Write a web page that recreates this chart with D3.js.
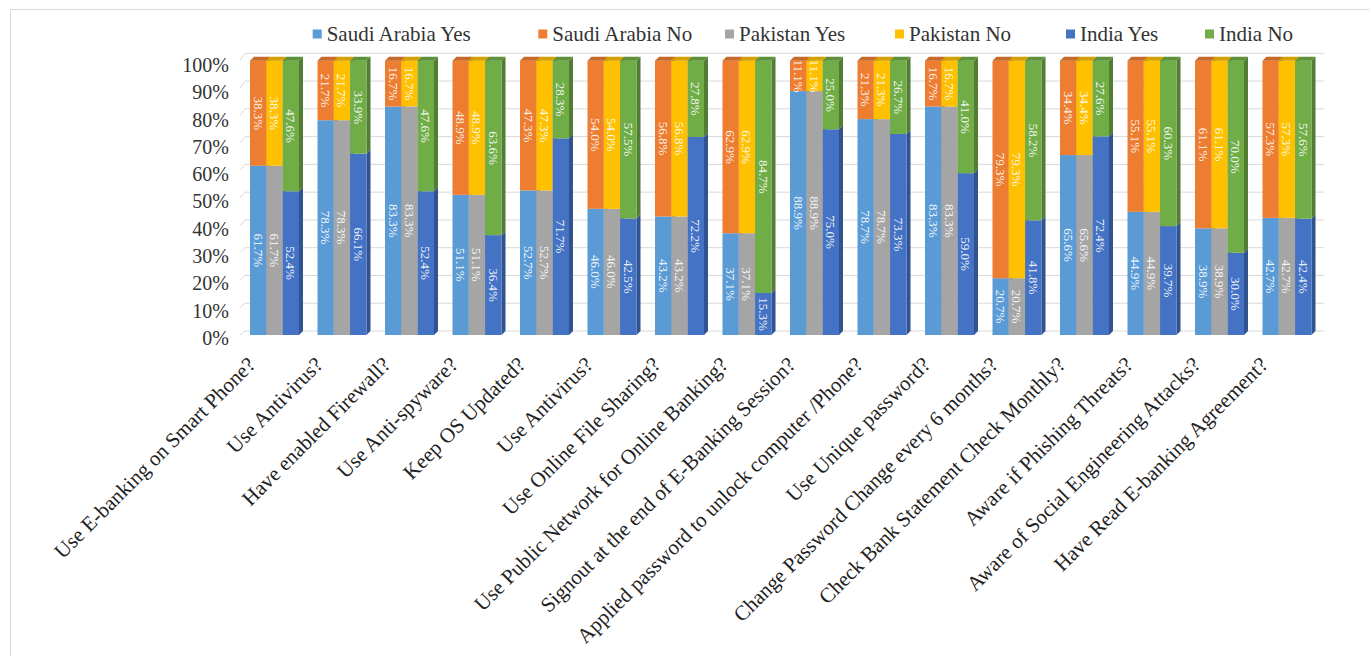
<!DOCTYPE html>
<html>
<head>
<meta charset="utf-8">
<script src="https://cdn.jsdelivr.net/npm/d3@7"></script>
<style>
  body { margin: 0; background: #fff; }
  svg { display: block; }
</style>
</head>
<body>
<div id="chart"></div>
<script>
const categories = [
  "Use E-banking on Smart Phone?",
  "Use Antivirus?",
  "Have enabled Firewall?",
  "Use Anti-spyware?",
  "Keep OS Updated?",
  "Use Antivirus?",
  "Use Online File Sharing?",
  "Use Public Network for Online Banking?",
  "Signout at the end of E-Banking Session?",
  "Applied password to unlock computer /Phone?",
  "Use Unique password?",
  "Change Password Change every 6 months?",
  "Check Bank Statement Check Monthly?",
  "Aware if Phishing Threats?",
  "Aware of Social Engineering Attacks?",
  "Have Read E-banking Agreement?"
];
const saudiYes    = [61.7, 78.3, 83.3, 51.1, 52.7, 46.0, 43.2, 37.1, 88.9, 78.7, 83.3, 20.7, 65.6, 44.9, 38.9, 42.7];
const saudiNo     = [38.3, 21.7, 16.7, 48.9, 47.3, 54.0, 56.8, 62.9, 11.1, 21.3, 16.7, 79.3, 34.4, 55.1, 61.1, 57.3];
const pakistanYes = [61.7, 78.3, 83.3, 51.1, 52.7, 46.0, 43.2, 37.1, 88.9, 78.7, 83.3, 20.7, 65.6, 44.9, 38.9, 42.7];
const pakistanNo  = [38.3, 21.7, 16.7, 48.9, 47.3, 54.0, 56.8, 62.9, 11.1, 21.3, 16.7, 79.3, 34.4, 55.1, 61.1, 57.3];
const indiaYes    = [52.4, 66.1, 52.4, 36.4, 71.7, 42.5, 72.2, 15.3, 75.0, 73.3, 59.0, 41.8, 72.4, 39.7, 30.0, 42.4];
const indiaNo     = [47.6, 33.9, 47.6, 63.6, 28.3, 57.5, 27.8, 84.7, 25.0, 26.7, 41.0, 58.2, 27.6, 60.3, 70.0, 57.6];
const yTicks = [0, 10, 20, 30, 40, 50, 60, 70, 80, 90, 100];

const series = [
  { country: "Saudi Arabia", yes: saudiYes, no: saudiNo, yesColor: "#5b9bd5", noColor: "#ed7d31" },
  { country: "Pakistan", yes: pakistanYes, no: pakistanNo, yesColor: "#a5a5a5", noColor: "#ffc000" },
  { country: "India", yes: indiaYes, no: indiaNo, yesColor: "#4472c4", noColor: "#70ad47" }
];

const width = 1369, height = 656;
const dx = 4, dy = 4; // 3d depth
const serif = "'Liberation Serif', 'Times New Roman', serif";

const svg = d3.select("#chart").append("svg")
  .attr("width", width)
  .attr("height", height);

// outer frame
svg.append("rect")
  .attr("x", 10.5).attr("y", 9.5)
  .attr("width", 1400).attr("height", 700)
  .attr("fill", "none")
  .attr("stroke", "#d9d9d9");

const x = d3.scaleBand()
  .domain(d3.range(categories.length))
  .range([240.75, 1320.75])
  .paddingInner(0.274)
  .paddingOuter(0.137);

const sub = d3.scaleBand()
  .domain(series.map(s => s.country))
  .range([0, x.bandwidth()]);

const yFront = d3.scaleLinear().domain([0, 100]).range([335, 60.7]);
const yBack = d3.scaleLinear().domain([0, 100]).range([331, 53.3]);
const yLabel = d3.scaleLinear().domain([0, 100]).range([338, 65]);

// back wall gridlines
const grid = svg.append("g");
grid.selectAll("line.g")
  .data(yTicks)
  .join("line")
  .attr("x1", 245).attr("x2", 1324)
  .attr("y1", d => yBack(d)).attr("y2", d => yBack(d))
  .attr("stroke", "#d9d9d9");
grid.selectAll("line.w")
  .data(yTicks)
  .join("line")
  .attr("x1", 240).attr("x2", 245)
  .attr("y1", d => yFront(d)).attr("y2", d => yBack(d))
  .attr("stroke", "#d9d9d9");

// y axis
const yAxis = svg.append("g")
  .attr("transform", "translate(229,0)")
  .call(d3.axisLeft(yLabel).tickValues(yTicks).tickFormat(d => d + "%").tickSize(0).tickPadding(0));
yAxis.select(".domain").remove();
yAxis.attr("font-family", serif).attr("font-size", 20);
yAxis.selectAll("text")
  .attr("font-family", serif)
  .attr("font-size", 20)
  .attr("fill", "#333");

// bars
const bars = svg.append("g");
const labels = [];
categories.forEach((c, i) => {
  series.forEach(s => {
    const bx = x(i) + sub(s.country);
    const w = sub.bandwidth();
    const segs = [
      { v0: 0, v1: s.yes[i], color: s.yesColor },
      { v0: s.yes[i], v1: s.yes[i] + s.no[i], color: s.noColor }
    ];
    segs.forEach((seg, k) => {
      const yt = yFront(seg.v1), yb = yFront(seg.v0);
      // side face
      bars.append("path")
        .attr("d", `M${bx + w},${yb} L${bx + w + dx},${yb - dy} L${bx + w + dx},${yt - dy} L${bx + w},${yt} Z`)
        .attr("fill", d3.color(seg.color).darker(0.9));
      // front face
      bars.append("rect")
        .attr("x", bx).attr("y", yt)
        .attr("width", w).attr("height", yb - yt)
        .attr("fill", seg.color);
      if (k === 1) {
        bars.append("path")
          .attr("d", `M${bx},${yt} L${bx + dx},${yt - dy} L${bx + w + dx},${yt - dy} L${bx + w},${yt} Z`)
          .attr("fill", d3.color(seg.color).darker(0.5));
      }
      labels.push({ x: bx + w / 2, y: (yt + yb) / 2, v: seg.v1 - seg.v0 });
    });
  });
});

// data labels
svg.append("g").selectAll("text")
  .data(labels)
  .join("text")
  .attr("transform", d => `translate(${d.x},${d.y}) rotate(90)`)
  .attr("text-anchor", "middle")
  .attr("dy", "0.35em")
  .attr("font-family", serif)
  .attr("font-size", 13)
  .attr("fill", "#fff")
  .attr("fill-opacity", 0.9)
  .text(d => d.v.toFixed(1) + "%");

// category labels
svg.append("g").selectAll("text")
  .data(categories)
  .join("text")
  .attr("transform", (d, i) => `translate(${x(i) + x.bandwidth() / 2 - 18},${366}) rotate(-45)`)
  .attr("text-anchor", "end")
  .attr("font-family", serif)
  .attr("font-size", 21)
  .attr("fill", "#222")
  .text(d => d);

// legend
const legendItems = [];
series.forEach(s => {
  legendItems.push({ name: s.country + " Yes", color: s.yesColor });
  legendItems.push({ name: s.country + " No", color: s.noColor });
});
const legendX = [312.7, 538.3, 725, 895, 1066, 1205];
const legend = svg.append("g");
legendItems.forEach((item, k) => {
  legend.append("rect")
    .attr("x", legendX[k]).attr("y", 29.5)
    .attr("width", 9).attr("height", 9)
    .attr("fill", item.color);
  legend.append("text")
    .attr("x", legendX[k] + 14).attr("y", 34)
    .attr("dy", "0.35em")
    .attr("font-family", serif)
    .attr("font-size", 21)
    .attr("fill", "#333")
    .text(item.name);
});
</script>
</body>
</html>
